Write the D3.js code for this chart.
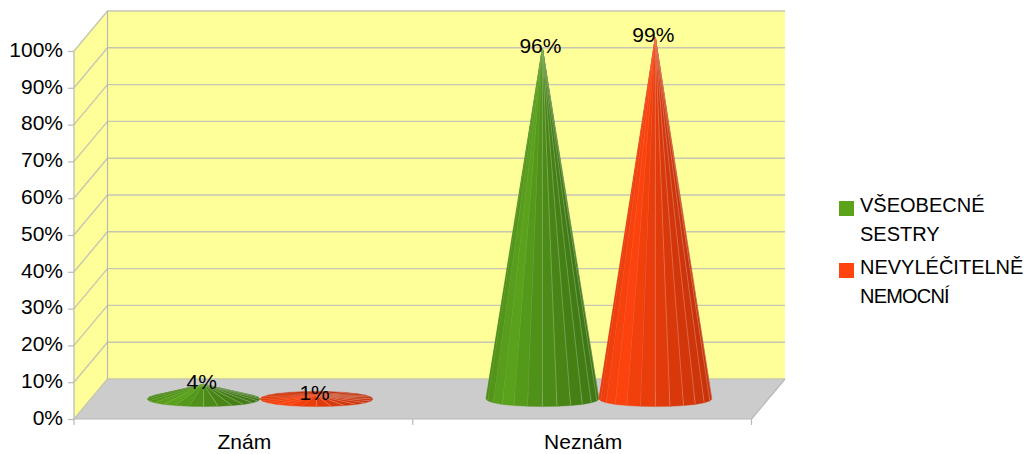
<!DOCTYPE html>
<html>
<head>
<meta charset="utf-8">
<script src="https://cdn.jsdelivr.net/npm/d3@7"></script>
<style>
  html, body { margin: 0; padding: 0; background: #fff; }
  text { font-family: "Liberation Sans", Arial, sans-serif; fill: #000; }
</style>
</head>
<body>
<svg id="chart" width="1026" height="454" style="display:block"></svg>
<script>
// Chart data
const categories = ["Znám", "Neznám"];
const seriesNames = ["VŠEOBECNÉ SESTRY", "NEVYLÉČITELNĚ NEMOCNÍ"];
const nurses = [4, 96];
const terminallyIll = [1, 99];
const seriesValues = [nurses, terminallyIll];
const tickValues = [0, 10, 20, 30, 40, 50, 60, 70, 80, 90, 100];
const legendLines = [["VŠEOBECNÉ", "SESTRY"], ["NEVYLÉČITELNĚ", "NEMOCNÍ"]];

// Colours: [lit side, shaded side] per series
const seriesColors = [["#5ca31c", "#3a7012"], ["#ff440e", "#bf3009"]];
const wallFill = "#ffff99", floorFill = "#cccccc", gridColor = "#c6c6b2", axisColor = "#b8b8b8";

// Plot box of the front plane and the oblique depth vector
const plotLeft = 74, plotRight = 751.5, plotBottom = 419, plotTop = 51;
const depth = { x: 33.5, y: -40 };
const mid = { x: depth.x / 2, y: depth.y / 2 };

const x = d3.scaleBand().domain(categories).range([plotLeft, plotRight]).paddingInner(0).paddingOuter(0);
const xSeries = d3.scaleBand().domain(d3.range(seriesNames.length))
  .range([0, x.bandwidth()]).paddingInner(0).paddingOuter(0.5);
const y = d3.scaleLinear().domain([0, 100]).range([plotBottom, plotTop]);
// Cones stand mid-way through the depth of the floor
const coneY = d3.scaleLinear().domain([0, 100]).range([plotBottom + mid.y, 34]);

const svg = d3.select("#chart");
const pts = a => a.map(p => p.join(",")).join(" ");

// Back wall, side wall and floor
svg.append("polygon").attr("fill", wallFill).attr("points", pts([
  [plotLeft + depth.x, y(100) + depth.y], [plotRight + depth.x, y(100) + depth.y],
  [plotRight + depth.x, y(0) + depth.y], [plotLeft + depth.x, y(0) + depth.y]]));
svg.append("polygon").attr("fill", wallFill).attr("points", pts([
  [plotLeft, y(100)], [plotLeft + depth.x, y(100) + depth.y],
  [plotLeft + depth.x, y(0) + depth.y], [plotLeft, y(0)]]));
svg.append("polygon").attr("fill", floorFill).attr("points", pts([
  [plotLeft, y(0)], [plotLeft + depth.x, y(0) + depth.y],
  [plotRight + depth.x, y(0) + depth.y], [plotRight, y(0)]]));

// Gridlines folded across the side wall and the back wall
svg.append("g").selectAll("polyline").data(tickValues).join("polyline")
  .attr("fill", "none").attr("stroke", gridColor).attr("stroke-width", 1.4)
  .attr("points", d => pts([
    [plotLeft, y(d)], [plotLeft + depth.x, y(d) + depth.y], [plotRight + depth.x, y(d) + depth.y]]));

// Remaining frame edges
const edges = [
  [[plotLeft, y(0)], [plotLeft, y(100)]],
  [[plotLeft + depth.x, y(0) + depth.y], [plotLeft + depth.x, y(100) + depth.y]],
  [[plotLeft, y(0)], [plotRight, y(0)]],
  [[plotRight, y(0)], [plotRight + depth.x, y(0) + depth.y]]
];
svg.append("g").selectAll("polyline").data(edges).join("polyline")
  .attr("fill", "none").attr("stroke", axisColor).attr("stroke-width", 1.2)
  .attr("points", d => pts(d));

// Value axis
const yAxis = svg.append("g").attr("transform", `translate(${plotLeft},0)`)
  .call(d3.axisLeft(y).tickValues(tickValues).tickSize(6).tickPadding(5).tickFormat(d => d + "%"));
yAxis.select(".domain").remove();
yAxis.selectAll("line").attr("stroke", axisColor).attr("stroke-width", 1.2);
yAxis.selectAll("text").attr("font-size", 21).attr("dy", "0.25em")
  .style("font-family", "'Liberation Sans', Arial, sans-serif");

// Category axis with ticks on the band boundaries
const xAxis = svg.append("g").attr("transform", `translate(1,${plotBottom})`)
  .call(d3.axisBottom(x).tickSize(0).tickPadding(13.5));
xAxis.select(".domain").remove();
xAxis.selectAll("text").attr("font-size", 21).attr("dy", "0.8em")
  .style("font-family", "'Liberation Sans', Arial, sans-serif");
svg.append("g").selectAll("line").data(d3.range(categories.length + 1)).join("line")
  .attr("x1", i => plotLeft + i * x.step()).attr("x2", i => plotLeft + i * x.step())
  .attr("y1", plotBottom).attr("y2", plotBottom + 6)
  .attr("stroke", axisColor).attr("stroke-width", 1.2);

// Cones: a faceted surface from the base ellipse up to the apex
const facetCount = 24;
const flatten = 0.135;          // ellipse height relative to its width
const lightAngle = 2.3;         // facing direction of the brightest facet, radians

function drawCone(group, cx, cy, rx, apexY, colors) {
  const ry = rx * flatten;
  const shade = d3.interpolateRgb(colors[1], colors[0]);
  const angle = i => (i / facetCount) * 2 * Math.PI;
  const basePoint = i => [cx + rx * Math.cos(angle(i)), cy + ry * Math.sin(angle(i))];
  const facets = d3.range(facetCount).map(i => {
    const theta = angle(i + 0.5);
    const away = Math.acos(Math.cos(theta - lightAngle));
    return { i, order: Math.sin(theta), t: 1 - away / Math.PI };
  }).sort((a, b) => d3.ascending(a.order, b.order));

  facets.forEach(f => {
    const color = shade(f.t * f.t);
    group.append("polygon")
      .attr("points", pts([[cx, apexY], basePoint(f.i), basePoint(f.i + 1)]))
      .attr("fill", color).attr("stroke", color).attr("stroke-width", 0.4);
    // Pale seam where two neighbouring facets meet
    const [sx, sy] = basePoint(f.i);
    group.append("line")
      .attr("x1", cx).attr("y1", apexY).attr("x2", sx).attr("y2", sy)
      .attr("stroke", "#ffffff").attr("stroke-opacity", 0.28).attr("stroke-width", 0.9);
  });
}

const cones = svg.append("g");
const labels = svg.append("g");
categories.forEach((cat, c) => {
  seriesValues.forEach((values, s) => {
    const v = values[c];
    const cx = x(cat) + xSeries(s) + xSeries.bandwidth() / 2 + mid.x;
    const apexY = coneY(v);
    drawCone(cones.append("g"), cx, coneY(0), xSeries.bandwidth() / 2, apexY, seriesColors[s]);
    labels.append("text")
      .attr("x", cx - 2).attr("y", apexY + 4.5)
      .attr("text-anchor", "middle").attr("font-size", 21)
      .text(v + "%");
  });
});

// Legend
const legendX = 839, legendTextX = 860;
const legendRows = [
  { box: 201, base: [212, 241], spacing: [0, 0] },
  { box: 263, base: [274, 303], spacing: [0, -0.8] }
];
const legend = svg.append("g");
legendRows.forEach((row, s) => {
  legend.append("rect")
    .attr("x", legendX).attr("y", row.box).attr("width", 15).attr("height", 15)
    .attr("fill", seriesColors[s][0]);
  legendLines[s].forEach((line, l) => {
    legend.append("text")
      .attr("x", legendTextX).attr("y", row.base[l])
      .attr("font-size", 20).attr("letter-spacing", row.spacing[l]).text(line);
  });
});
</script>
</body>
</html>
